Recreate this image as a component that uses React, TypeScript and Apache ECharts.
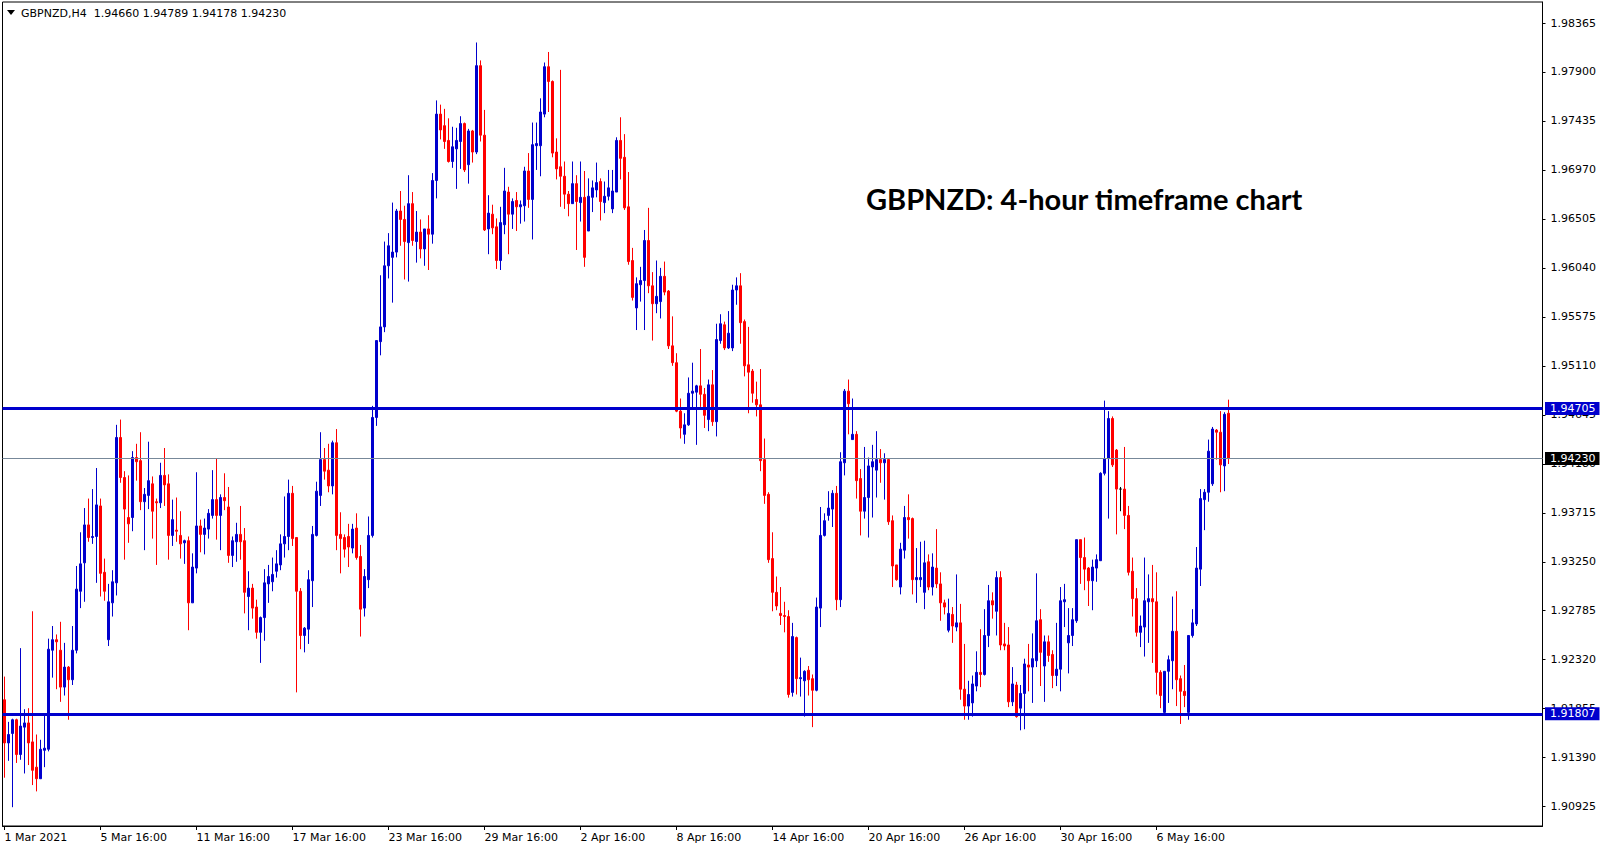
import React, { useEffect, useRef } from "react";
import * as echarts from "echarts";

const opens = [
  1.9194,1.9153,1.9162,1.9175,1.9142,1.9168,1.9172,1.9154,1.9130,1.9119,
  1.9146,1.9147,1.9241,1.9251,1.9241,1.9206,1.9225,1.9213,1.9241,1.9297,
  1.9324,1.9360,1.9348,1.9349,1.9378,1.9315,1.9251,1.9286,1.9305,1.9443,
  1.9405,1.9367,1.9367,1.9424,1.9421,1.9382,1.9388,1.9399,1.9382,1.9381,
  1.9407,1.9399,1.9350,1.9355,1.9350,1.9343,1.9345,1.9286,1.9319,1.9359,
  1.9351,1.9356,1.9369,1.9384,1.9369,1.9386,1.9377,1.9331,1.9344,1.9351,
  1.9345,1.9292,1.9300,1.9282,1.9258,1.9272,1.9304,1.9306,1.9316,1.9322,
  1.9342,1.9349,1.9390,1.9348,1.9297,1.9255,1.9261,1.9307,1.9350,1.9388,
  1.9422,1.9412,1.9397,1.9438,1.9351,1.9348,1.9349,1.9338,1.9357,1.9330,
  1.9281,1.9308,1.9350,1.9462,1.9534,1.9548,1.9606,1.9614,1.9619,1.9658,
  1.9650,1.9628,1.9665,1.9629,1.9638,1.9622,1.9641,1.9636,1.9687,1.9750,
  1.9739,1.9725,1.9705,1.9717,1.9724,1.9741,1.9702,1.9734,1.9714,1.9796,
  1.9730,1.9641,1.9655,1.9643,1.9611,1.9645,1.9676,1.9655,1.9668,1.9662,
  1.9663,1.9696,1.9669,1.9720,1.9720,1.9750,1.9795,1.9781,1.9714,1.9700,
  1.9691,1.9674,1.9665,1.9684,1.9666,1.9671,1.9639,1.9671,1.9678,1.9686,
  1.9666,1.9672,1.9660,1.9676,1.9725,1.9709,1.9662,1.9611,1.9566,1.9588,
  1.9592,1.9630,1.9587,1.9570,1.9572,1.9596,1.9582,1.9530,1.9514,1.9468,
  1.9446,1.9455,1.9485,1.9486,1.9492,1.9484,1.9460,1.9493,1.9458,1.9535,
  1.9550,1.9528,1.9528,1.9583,1.9587,1.9553,1.9512,1.9506,1.9479,1.9474,
  1.9422,1.9389,1.9328,1.9296,1.9276,1.9274,1.9273,1.9201,1.9253,1.9214,
  1.9212,1.9222,1.9214,1.9203,1.9281,1.9350,1.9369,1.9375,1.9390,1.9289,
  1.9419,1.9487,1.9441,1.9446,1.9404,1.9373,1.9386,1.9415,1.9412,1.9422,
  1.9419,1.9422,1.9364,1.9322,1.9301,1.9336,1.9367,1.9366,1.9308,1.9308,
  1.9296,1.9325,1.9301,1.9319,1.9304,1.9286,1.9260,1.9275,1.9263,1.9267,
  1.9204,1.9188,1.9191,1.9207,1.9220,1.9218,1.9255,1.9288,1.9278,1.9310,
  1.9247,1.9246,1.9192,1.9208,1.9186,1.9200,1.9227,1.9225,1.9231,1.9270,
  1.9226,1.9249,1.9237,1.9217,1.9223,1.9287,1.9248,1.9255,1.9269,1.9346,
  1.9329,1.9319,1.9307,1.9319,1.9326,1.9409,1.9423,1.9461,1.9431,1.9394,
  1.9394,1.9369,1.9316,1.9290,1.9258,1.9263,1.9287,1.9290,1.9287,1.9220,
  1.9182,1.9221,1.9231,1.9259,1.9214,1.9202,1.9182,1.9255,1.9266,1.9318,
  1.9384,1.9391,1.9399,1.9450,1.9448,1.9416,1.94660,
];

const closes = [
  1.9153,1.9161,1.9175,1.9142,1.9169,1.9172,1.9153,1.9127,1.9119,1.9147,
  1.9148,1.9242,1.9251,1.9249,1.9206,1.9225,1.9213,1.9241,1.9299,1.9323,
  1.9360,1.9348,1.9349,1.9379,1.9314,1.9297,1.9287,1.9306,1.9443,1.9405,
  1.9375,1.9361,1.9424,1.9420,1.9382,1.9389,1.9402,1.9373,1.9381,1.9407,
  1.9398,1.9350,1.9365,1.9354,1.9342,1.9345,1.9286,1.9320,1.9359,1.9351,
  1.9357,1.9371,1.9384,1.9369,1.9386,1.9383,1.9331,1.9345,1.9351,1.9344,
  1.9296,1.9300,1.9281,1.9258,1.9272,1.9305,1.9311,1.9313,1.9323,1.9342,
  1.9349,1.9390,1.9347,1.9297,1.9255,1.9262,1.9308,1.9351,1.9392,1.9422,
  1.9411,1.9397,1.9438,1.9350,1.9347,1.9337,1.9339,1.9356,1.9329,1.9280,
  1.9311,1.9350,1.9462,1.9535,1.9548,1.9606,1.9625,1.9619,1.9658,1.9650,
  1.9629,1.9665,1.9630,1.9638,1.9622,1.9641,1.9636,1.9687,1.9750,1.9735,
  1.9724,1.9705,1.9719,1.9725,1.9741,1.9697,1.9734,1.9714,1.9796,1.9730,
  1.9640,1.9656,1.9642,1.9611,1.9647,1.9677,1.9655,1.9667,1.9662,1.9664,
  1.9696,1.9669,1.9721,1.9722,1.9752,1.9795,1.9781,1.9713,1.9698,1.9691,
  1.9674,1.9665,1.9684,1.9667,1.9671,1.9614,1.9672,1.9680,1.9685,1.9667,
  1.9672,1.9680,1.9677,1.9725,1.9708,1.9661,1.9610,1.9576,1.9589,1.9592,
  1.9630,1.9587,1.9570,1.9577,1.9596,1.9581,1.9530,1.9514,1.9468,1.9452,
  1.9455,1.9485,1.9487,1.9492,1.9484,1.9464,1.9493,1.9458,1.9536,1.9551,
  1.9528,1.9542,1.9583,1.9587,1.9552,1.9511,1.9505,1.9485,1.9474,1.9421,
  1.9388,1.9327,1.9296,1.9283,1.9274,1.9273,1.9199,1.9254,1.9214,1.9215,
  1.9221,1.9213,1.9203,1.9282,1.9350,1.9364,1.9376,1.9390,1.9289,1.9420,
  1.9487,1.9475,1.9446,1.9402,1.9373,1.9386,1.9416,1.9420,1.9422,1.9419,
  1.9422,1.9363,1.9321,1.9308,1.9337,1.9367,1.9365,1.9308,1.9310,1.9310,
  1.9324,1.9301,1.9320,1.9304,1.9286,1.9282,1.9276,1.9264,1.9267,1.9204,
  1.9188,1.9199,1.9209,1.9220,1.9218,1.9255,1.9288,1.9284,1.9310,1.9246,
  1.9245,1.9192,1.9209,1.9178,1.9200,1.9228,1.9225,1.9233,1.9269,1.9239,
  1.9249,1.9236,1.9217,1.9223,1.9288,1.9289,1.9255,1.9270,1.9346,1.9329,
  1.9318,1.9307,1.9320,1.9327,1.9409,1.9423,1.9461,1.9417,1.9394,1.9394,
  1.9369,1.9315,1.9290,1.9258,1.9264,1.9288,1.9290,1.9287,1.9220,1.9198,
  1.9221,1.9232,1.9259,1.9213,1.9202,1.9198,1.9255,1.9267,1.9319,1.9385,
  1.9391,1.9430,1.9451,1.9448,1.9417,1.9465,1.94230,
];

const highs = [
  1.9216,1.9173,1.9176,1.9176,1.9243,1.9185,1.9186,1.9278,1.9161,1.9156,
  1.9179,1.9252,1.9264,1.9256,1.9268,1.9248,1.9226,1.9264,1.9321,1.9353,
  1.9376,1.9385,1.9394,1.9414,1.9385,1.9328,1.9304,1.9317,1.9455,1.9460,
  1.9411,1.9407,1.9430,1.9437,1.9448,1.9395,1.9439,1.9406,1.9385,1.9419,
  1.9433,1.9408,1.9384,1.9386,1.9373,1.9346,1.9349,1.9333,1.9410,1.9365,
  1.9366,1.9375,1.9412,1.9423,1.9389,1.9409,1.9396,1.9349,1.9362,1.9378,
  1.9357,1.9316,1.9304,1.9289,1.9273,1.9318,1.9322,1.9329,1.9336,1.9351,
  1.9387,1.9403,1.9397,1.9348,1.9300,1.9263,1.9317,1.9359,1.9401,1.9448,
  1.9433,1.9437,1.9440,1.9451,1.9372,1.9351,1.9361,1.9361,1.9371,1.9341,
  1.9318,1.9368,1.9473,1.9535,1.9597,1.9629,1.9637,1.9666,1.9660,1.9677,
  1.9663,1.9692,1.9676,1.9658,1.9650,1.9641,1.9654,1.9694,1.9763,1.9759,
  1.9755,1.9746,1.9738,1.9737,1.9748,1.9742,1.9736,1.9735,1.9818,1.9801,
  1.9754,1.9673,1.9664,1.9651,1.9662,1.9699,1.9681,1.9670,1.9676,1.9668,
  1.9700,1.9713,1.9742,1.9742,1.9765,1.9799,1.9809,1.9782,1.9727,1.9792,
  1.9705,1.9677,1.9705,1.9692,1.9705,1.9696,1.9689,1.9687,1.9704,1.9689,
  1.9686,1.9697,1.9697,1.9728,1.9747,1.9731,1.9695,1.9623,1.9595,1.9605,
  1.9640,1.9661,1.9600,1.9611,1.9604,1.9610,1.9583,1.9558,1.9523,1.9480,
  1.9466,1.9500,1.9514,1.9493,1.9527,1.9490,1.9498,1.9507,1.9551,1.9560,
  1.9553,1.9563,1.9588,1.9595,1.9599,1.9555,1.9548,1.9508,1.9496,1.9508,
  1.9442,1.9391,1.9353,1.9311,1.9301,1.9287,1.9279,1.9267,1.9254,1.9234,
  1.9222,1.9226,1.9218,1.9291,1.9377,1.9371,1.9392,1.9393,1.9397,1.9429,
  1.9489,1.9498,1.9480,1.9449,1.9413,1.9434,1.9424,1.9436,1.9449,1.9432,
  1.9428,1.9423,1.9369,1.9322,1.9343,1.9378,1.9389,1.9367,1.9338,1.9344,
  1.9345,1.9332,1.9333,1.9356,1.9315,1.9289,1.9290,1.9282,1.9313,1.9285,
  1.9247,1.9212,1.9217,1.9240,1.9261,1.9280,1.9303,1.9296,1.9316,1.9316,
  1.9267,1.9263,1.9225,1.9211,1.9208,1.9233,1.9247,1.9257,1.9314,1.9280,
  1.9255,1.9255,1.9241,1.9267,1.9301,1.9304,1.9281,1.9281,1.9346,1.9346,
  1.9348,1.9320,1.9327,1.9332,1.9410,1.9478,1.9468,1.9463,1.9432,1.9396,
  1.9434,1.9378,1.9329,1.9300,1.9274,1.9329,1.9313,1.9322,1.9315,1.9222,
  1.9221,1.9236,1.9292,1.9297,1.9217,1.9227,1.9255,1.9280,1.9339,1.9394,
  1.9394,1.9441,1.9453,1.9451,1.9468,1.9467,1.94789,
];

const lows = [
  1.9120,1.9136,1.9092,1.9134,1.9137,1.9124,1.9132,1.9113,1.9107,1.9119,
  1.9130,1.9145,1.9215,1.9204,1.9192,1.9198,1.9175,1.9208,1.9238,1.9281,
  1.9287,1.9344,1.9342,1.9305,1.9292,1.9288,1.9245,1.9273,1.9293,1.9400,
  1.9327,1.9343,1.9354,1.9402,1.9374,1.9336,1.9375,1.9347,1.9322,1.9376,
  1.9378,1.9327,1.9340,1.9344,1.9328,1.9323,1.9260,1.9286,1.9314,1.9334,
  1.9332,1.9347,1.9366,1.9346,1.9336,1.9374,1.9324,1.9320,1.9325,1.9327,
  1.9276,1.9260,1.9271,1.9252,1.9229,1.9250,1.9286,1.9297,1.9310,1.9317,
  1.9329,1.9336,1.9340,1.9201,1.9242,1.9239,1.9247,1.9282,1.9349,1.9378,
  1.9403,1.9391,1.9389,1.9336,1.9314,1.9329,1.9320,1.9333,1.9327,1.9254,
  1.9273,1.9300,1.9348,1.9454,1.9521,1.9543,1.9594,1.9571,1.9614,1.9625,
  1.9593,1.9591,1.9625,1.9609,1.9613,1.9606,1.9602,1.9627,1.9670,1.9726,
  1.9717,1.9704,1.9699,1.9679,1.9698,1.9695,1.9684,1.9704,1.9712,1.9724,
  1.9639,1.9617,1.9636,1.9603,1.9602,1.9636,1.9617,1.9641,1.9639,1.9646,
  1.9648,1.9661,1.9631,1.9697,1.9691,1.9747,1.9752,1.9709,1.9688,1.9662,
  1.9660,1.9653,1.9665,1.9621,1.9648,1.9605,1.9639,1.9657,1.9671,1.9649,
  1.9656,1.9668,1.9656,1.9676,1.9688,1.9659,1.9607,1.9573,1.9545,1.9572,
  1.9545,1.9580,1.9535,1.9561,1.9556,1.9578,1.9527,1.9511,1.9467,1.9442,
  1.9437,1.9454,1.9470,1.9436,1.9472,1.9452,1.9449,1.9454,1.9444,1.9532,
  1.9526,1.9527,1.9525,1.9569,1.9532,1.9501,1.9466,1.9476,1.9463,1.9411,
  1.9380,1.9324,1.9278,1.9279,1.9265,1.9258,1.9196,1.9197,1.9199,1.9197,
  1.9178,1.9198,1.9168,1.9202,1.9263,1.9349,1.9364,1.9358,1.9279,1.9282,
  1.9407,1.9446,1.9441,1.9385,1.9350,1.9366,1.9348,1.9367,1.9386,1.9400,
  1.9384,1.9360,1.9301,1.9307,1.9294,1.9328,1.9347,1.9294,1.9286,1.9301,
  1.9280,1.9298,1.9293,1.9300,1.9269,1.9275,1.9258,1.9248,1.9259,1.9194,
  1.9175,1.9175,1.9178,1.9202,1.9206,1.9217,1.9244,1.9271,1.9255,1.9241,
  1.9241,1.9187,1.9188,1.9177,1.9165,1.9166,1.9202,1.9191,1.9225,1.9207,
  1.9192,1.9230,1.9205,1.9207,1.9202,1.9263,1.9219,1.9245,1.9267,1.9304,
  1.9298,1.9283,1.9279,1.9306,1.9326,1.9407,1.9366,1.9415,1.9351,1.9373,
  1.9356,1.9312,1.9273,1.9254,1.9244,1.9235,1.9248,1.9229,1.9199,1.9186,
  1.9180,1.9191,1.9204,1.9188,1.9171,1.9187,1.9175,1.9253,1.9264,1.9302,
  1.9355,1.9382,1.9397,1.9422,1.9391,1.9392,1.94178,
];

const dojiBars = [279];

const timeLabels = [
  "1 Mar 2021", "5 Mar 16:00", "11 Mar 16:00", "17 Mar 16:00", "23 Mar 16:00",
  "29 Mar 16:00", "2 Apr 16:00", "8 Apr 16:00", "14 Apr 16:00", "20 Apr 16:00",
  "26 Apr 16:00", "30 Apr 16:00", "6 May 16:00",
];
const barsPerLabel = 24;
const slotCount = 385;

const priceTicks = [
  1.98365, 1.979, 1.97435, 1.9697, 1.96505, 1.9604, 1.95575, 1.9511, 1.94645,
  1.9418, 1.93715, 1.9325, 1.92785, 1.9232, 1.91855, 1.9139, 1.90925,
];
const priceMin = 1.907414;
const priceMax = 1.985644;

const resistanceLevel = 1.94705;
const supportLevel = 1.91807;
const bidPrice = 1.9423;

const headerText = "GBPNZD,H4\u00a0\u00a01.94660 1.94789 1.94178 1.94230";
const noteText = "GBPNZD: 4-hour timeframe chart";

export default function App() {
  const ref = useRef<HTMLDivElement>(null);

  useEffect(() => {
    if (!ref.current) return;
    const chart = echarts.init(ref.current, null, { renderer: "svg" });
    const BLUE = "#0000CD";
    const RED = "#FF0000";
    const FONT = "DejaVu Sans";

    const cats = Array.from({ length: slotCount }, (_, i) => String(i));
    const isLabelIdx = (idx: number) =>
      idx % barsPerLabel === 0 && idx / barsPerLabel < timeLabels.length;

    const data = opens.map((o, i) => {
      const v = [o, closes[i], lows[i], highs[i]];
      return dojiBars.includes(i)
        ? {
            value: v,
            itemStyle: { color: "#000", color0: "#000", borderColor: "#000", borderColor0: "#000" },
          }
        : v;
    });

    const tag = (bg: string) => ({
      show: true,
      position: "end",
      distance: 2.5,
      formatter: (p: any) => Number(p.value).toFixed(5),
      color: "#fff",
      backgroundColor: bg,
      fontFamily: FONT,
      fontSize: 11,
      lineHeight: 13,
      padding: [0, 4, 0, 5],
    });

    chart.setOption({
      animation: false,
      backgroundColor: "#fff",
      grid: {
        left: 2.5,
        right: 64.5,
        top: 2,
        bottom: 24,
        show: true,
        borderColor: "#000",
        borderWidth: 1,
        containLabel: false,
        outerBoundsMode: "none",
      },
      xAxis: {
        type: "category",
        data: cats,
        boundaryGap: true,
        axisLine: { show: true, lineStyle: { color: "#000", width: 1 } },
        axisTick: {
          show: true,
          alignWithLabel: true,
          interval: (idx: number) => isLabelIdx(idx),
          length: 4,
          lineStyle: { color: "#000" },
        },
        axisLabel: {
          show: true,
          interval: (idx: number) => isLabelIdx(idx),
          formatter: (_v: string, idx: number) => timeLabels[idx / barsPerLabel] ?? "",
          align: "left",
          margin: 6,
          color: "#000",
          fontFamily: FONT,
          fontSize: 11,
        },
        splitLine: { show: false },
      },
      yAxis: {
        type: "value",
        position: "right",
        min: priceMin,
        max: priceMax,
        axisLine: { show: true, lineStyle: { color: "#000", width: 1 } },
        axisTick: { show: true, length: 3, customValues: priceTicks, lineStyle: { color: "#000" } },
        axisLabel: {
          show: true,
          customValues: priceTicks,
          formatter: (v: number) => v.toFixed(5),
          margin: 8,
          color: "#000",
          fontFamily: FONT,
          fontSize: 11,
        },
        splitLine: { show: false },
      },
      graphic: [
        { type: "polygon", shape: { points: [[7, 10], [15, 10], [11, 15]] }, style: { fill: "#000" } },
        {
          type: "text",
          x: 21,
          y: 13,
          style: { text: headerText, fill: "#000", fontFamily: FONT, fontSize: 11, align: "left", verticalAlign: "middle" },
        },
        {
          type: "text",
          x: 866,
          y: 198,
          style: { text: noteText, fill: "#000", fontFamily: "Lato", fontWeight: "bold", fontSize: 29, align: "left", verticalAlign: "middle" },
        },
      ],
      series: [
        {
          type: "candlestick",
          data,
          barWidth: 2,
          itemStyle: {
            color: BLUE,
            color0: RED,
            borderColor: BLUE,
            borderColor0: RED,
            borderWidth: 1,
          },
          markLine: {
            symbol: ["none", "none"],
            silent: true,
            animation: false,
            precision: 5,
            data: [
              { yAxis: bidPrice, lineStyle: { color: "#778899", width: 1, type: "solid" }, label: tag("#000") },
              { yAxis: resistanceLevel, lineStyle: { color: BLUE, width: 3, type: "solid" }, label: tag(BLUE) },
              { yAxis: supportLevel, lineStyle: { color: BLUE, width: 3, type: "solid" }, label: tag(BLUE) },
            ],
          },
        },
      ],
    });

    return () => chart.dispose();
  }, []);

  return (
    <div
      ref={ref}
      style={{ position: "fixed", left: 0, top: 0, width: 1607, height: 850, background: "#fff" }}
    />
  );
}
